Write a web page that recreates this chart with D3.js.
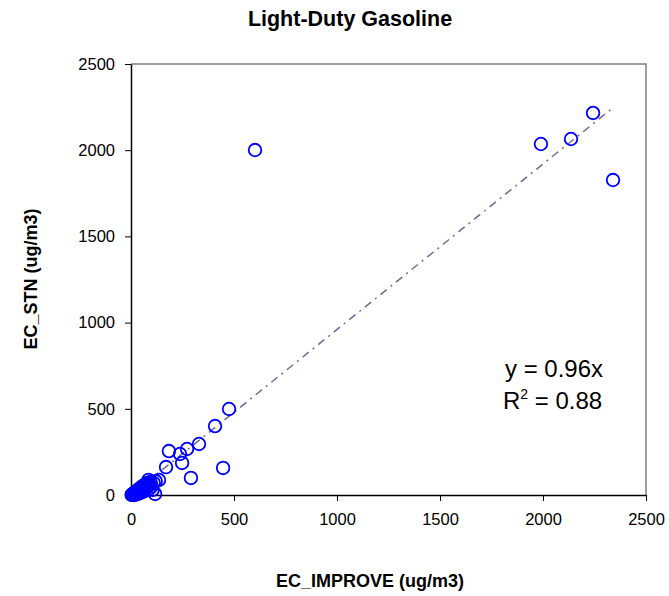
<!DOCTYPE html>
<html>
<head>
<meta charset="utf-8">
<script src="https://cdn.jsdelivr.net/npm/d3@7"></script>
<style>
  body { margin: 0; background: #fff; }
  text { font-family: "Liberation Sans", Arial, sans-serif; }
</style>
</head>
<body>
<svg id="chart" width="669" height="596"></svg>
<script>
// EC measurements, IMPROVE vs STN (ug/m3)
const ecImprove = [2243, 2136, 1990, 2340, 602, 476, 408, 330, 272, 238, 184, 248, 170, 447, 291, 136, 117,
  5, 10, 14, 18, 22, 26, 30, 34, 38, 42, 46, 50, 55, 60, 65, 70, 75, 80, 85, 90, 95, 100, 110, 60, 40, 20, 8, 3, 105, 120,
  15, 25, 35, 45, 52, 68, 78, 88];
const ecStn = [2216, 2065, 2036, 1827, 2001, 499, 400, 296, 267, 238, 255, 186, 162, 157, 99, 87, 6,
  2, 8, 5, 15, 12, 22, 18, 30, 26, 38, 35, 45, 42, 55, 50, 40, 62, 70, 88, 60, 75, 50, 70, 20, 15, 10, 4, 1, 30, 80,
  0, 3, 8, 12, 25, 30, 45, 35];
const slope = 0.96;
const r2 = "0.88";
const ticks = [0, 500, 1000, 1500, 2000, 2500];

const svg = d3.select('#chart');
const m = { left: 131, right: 646, top: 64, bottom: 495 };

const x = d3.scaleLinear().domain([0, 2500]).range([m.left, m.right]);
const y = d3.scaleLinear().domain([0, 2500]).range([m.bottom, m.top]);

// frame (top & right grey)
svg.append('path')
  .attr('d', `M${m.left},${m.top}H${m.right}V${m.bottom}`)
  .attr('fill', 'none').attr('stroke', '#808080').attr('stroke-width', 1.5);

const fmt = d3.format('d');
const xAxis = svg.append('g')
  .attr('transform', `translate(0,${m.bottom})`)
  .call(d3.axisBottom(x).tickValues(ticks).tickFormat(fmt).tickSize(6).tickSizeOuter(0).tickPadding(12));
const yAxis = svg.append('g')
  .attr('transform', `translate(${m.left},0)`)
  .call(d3.axisLeft(y).tickValues(ticks).tickFormat(fmt).tickSize(6).tickSizeOuter(0).tickPadding(10));
[xAxis, yAxis].forEach(a => {
  a.attr('font-size', null).attr('font-family', null);
  a.select('.domain').attr('stroke', '#000').attr('stroke-width', 1.5);
  a.selectAll('.tick line').attr('stroke', '#000');
  a.selectAll('.tick text').style('font-size', '16.5px').attr('fill', '#000');
});

// trendline
const xmax = d3.max(ecImprove);
svg.append('line')
  .attr('x1', x(0)).attr('y1', y(0))
  .attr('x2', x(xmax)).attr('y2', y(slope * xmax))
  .attr('stroke', '#6b6b9b').attr('stroke-width', 1.5)
  .attr('stroke-dasharray', '8,5,2,5');

// points
svg.append('g').selectAll('circle')
  .data(ecImprove.map((v, i) => [v, ecStn[i]]))
  .join('circle')
  .attr('cx', d => x(d[0])).attr('cy', d => y(d[1]))
  .attr('r', 6.3)
  .attr('fill', 'none').attr('stroke', '#0000ff').attr('stroke-width', 1.8);

// titles
svg.append('text').attr('x', 350).attr('y', 26).attr('text-anchor', 'middle')
  .style('font-size', '21.5px').attr('font-weight', 'bold').text('Light-Duty Gasoline');
svg.append('text').attr('x', 370).attr('y', 587).attr('text-anchor', 'middle')
  .style('font-size', '18px').attr('font-weight', 'bold').text('EC_IMPROVE (ug/m3)');
svg.append('text').attr('transform', 'translate(37,279) rotate(-90)').attr('text-anchor', 'middle')
  .style('font-size', '18px').attr('font-weight', 'bold').text('EC_STN (ug/m3)');

// equation
svg.append('text').attr('x', 505).attr('y', 377).style('font-size', '24px').text(`y = ${slope}x`);
const eq = svg.append('text').attr('x', 503).attr('y', 409).style('font-size', '24px');
eq.append('tspan').text('R');
eq.append('tspan').style('font-size', '14px').attr('dy', -10).text('2');
eq.append('tspan').attr('dy', 10).text(` = ${r2}`);
</script>
</body>
</html>
